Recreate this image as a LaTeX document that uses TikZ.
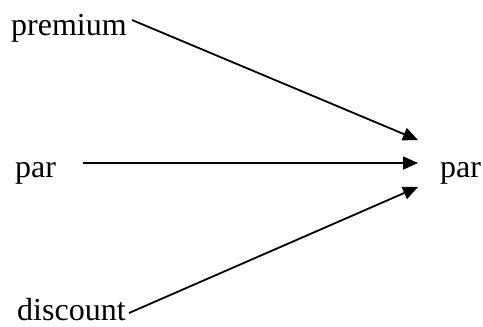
\documentclass[tikz,border=0pt]{standalone}
\usepackage{fontspec}
\setmainfont{Liberation Serif}
\usetikzlibrary{arrows.meta}
\begin{document}
\begin{tikzpicture}[x=1pt,y=-1pt,
  lbl/.style={anchor=base west,inner sep=0pt,font=\fontsize{32}{38}\selectfont},
  conn/.style={line width=1.8pt,-{Triangle[length=15pt,width=13pt]}}]
\useasboundingbox (0,0) rectangle (483,327);
\node[lbl] (premium) at (11,35) {premium};
\node[lbl] (parL) at (15,177) {par};
\node[lbl] (discount) at (17,320) {discount};
\node[lbl] (parR) at (440,177) {par};
\coordinate (s1) at (132,20);
\coordinate (s2) at (83,163);
\coordinate (s3) at (129,313);
\coordinate (e1) at (418,140);
\coordinate (e2) at (418,163);
\coordinate (e3) at (418,187);
\draw[conn] (s1) -- (e1);
\draw[conn] (s2) -- (e2);
\draw[conn] (s3) -- (e3);
\end{tikzpicture}
\end{document}
